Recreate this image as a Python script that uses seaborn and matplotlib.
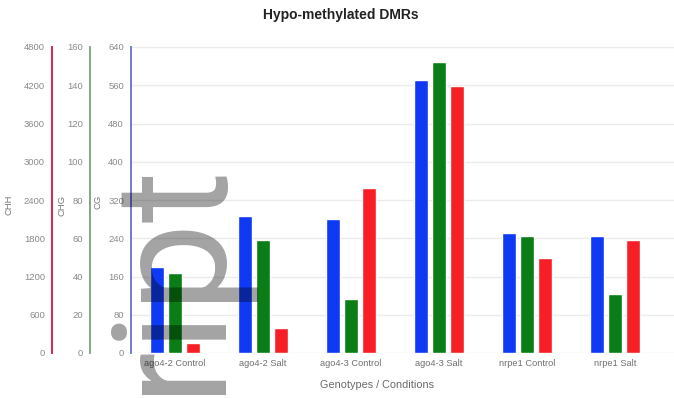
import matplotlib
matplotlib.use("Agg")
import matplotlib.pyplot as plt
import seaborn as sns
import pandas as pd

# Hypo-methylated DMR counts per genotype / condition, one series per context
conditions = ["ago4-2 Control", "ago4-2 Salt", "ago4-3 Control",
              "ago4-3 Salt", "nrpe1 Control", "nrpe1 Salt"]
cg_counts = [180, 286, 280, 572, 250, 245]
chg_counts = [42, 59, 28, 152, 61, 31]
chh_counts = [160, 400, 2585, 4195, 1485, 1780]

contexts = ["CG", "CHG", "CHH"]
context_colors = {"CG": "#0f3af5", "CHG": "#0a7d16", "CHH": "#f81e26"}
spine_colors = {"CG": "#6170d8", "CHG": "#7a9f7a", "CHH": "#d4143c"}
axis_max = {"CG": 640, "CHG": 160, "CHH": 4800}
axis_ticks = {
    "CG": [0, 80, 160, 240, 320, 400, 480, 560, 640],
    "CHG": [0, 20, 40, 60, 80, 100, 120, 140, 160],
    "CHH": [0, 600, 1200, 1800, 2400, 3000, 3600, 4200, 4800],
}

df = pd.DataFrame({
    "condition": conditions * 3,
    "context": ["CG"] * 6 + ["CHG"] * 6 + ["CHH"] * 6,
    "count": cg_counts + chg_counts + chh_counts,
})

sns.set_theme(style="white")
plt.rcParams["font.family"] = ["Liberation Sans", "DejaVu Sans"]

W, H = 674, 398
fig = plt.figure(figsize=(W / 100, H / 100), dpi=100)
left, right, top, bottom = 131, 674, 47, 353
ax = fig.add_axes([left / W, 1 - bottom / H, (right - left) / W, (bottom - top) / H])
ax_chg = ax.twinx()
ax_chh = ax.twinx()
axes = {"CG": ax, "CHG": ax_chg, "CHH": ax_chh}
# spine x positions (px) for each y axis
spine_x = {"CG": 131, "CHG": 90, "CHH": 52}

for ctx in contexts:
    a = axes[ctx]
    sns.barplot(
        data=df[df["context"] == ctx], x="condition", y="count",
        hue="context", hue_order=contexts, palette=context_colors,
        order=conditions, width=0.6, gap=0.2, dodge=True,
        saturation=1, legend=False, ax=a, zorder=3,
    )
    a.set_ylim(0, axis_max[ctx])
    a.set_yticks(axis_ticks[ctx])
    a.set_yticklabels([str(t) for t in axis_ticks[ctx]])
    a.set_ylabel("")
    a.set_xlabel("")
    for s in ["top", "right", "bottom"]:
        a.spines[s].set_visible(False)
    a.spines["left"].set_visible(True)
    a.spines["left"].set_color(spine_colors[ctx])
    a.spines["left"].set_linewidth(1.3)
    a.yaxis.set_ticks_position("left")
    a.yaxis.set_label_position("left")
    a.spines["left"].set_position(("axes", (spine_x[ctx] - left) / (right - left)))
    a.tick_params(axis="y", length=0, pad=5, labelsize=6.8, labelcolor="#8a8a8a")
    a.patch.set_visible(False)

ax.set_xlim(-0.5, 5.67)
ax.grid(axis="y", color="#ebebeb", linewidth=1)
ax.set_axisbelow(True)
ax.tick_params(axis="x", length=0, pad=4, labelsize=6.7, labelcolor="#707070")
for a in (ax_chg, ax_chh):
    a.tick_params(axis="x", labelbottom=False)

# axis titles
fig.text(9 / W, 1 - 205 / H, "CHH", rotation=90, ha="center", va="center",
         fontsize=6.8, color="#7a7a7a")
fig.text(62 / W, 1 - 205 / H, "CHG", rotation=90, ha="center", va="center",
         fontsize=6.8, color="#7a7a7a")
fig.text(98 / W, 1 - 202 / H, "CG", rotation=90, ha="center", va="center",
         fontsize=6.8, color="#7a7a7a")
fig.text(377 / W, 1 - 385 / H, "Genotypes / Conditions", ha="center", va="center",
         fontsize=7.8, color="#6a6a6a")
fig.text(341 / W, 1 - 15 / H, "Hypo-methylated DMRs", ha="center", va="center",
         fontsize=10, fontweight="bold", color="#222222")

# large translucent overlay lettering
fig.text(216 / W, 1 - 394 / H, "ript", rotation=90, rotation_mode="anchor",
         ha="left", va="baseline", fontsize=115, family="Roboto",
         color="black", alpha=0.36, zorder=10)

fig.savefig("out.png", dpi=100)
